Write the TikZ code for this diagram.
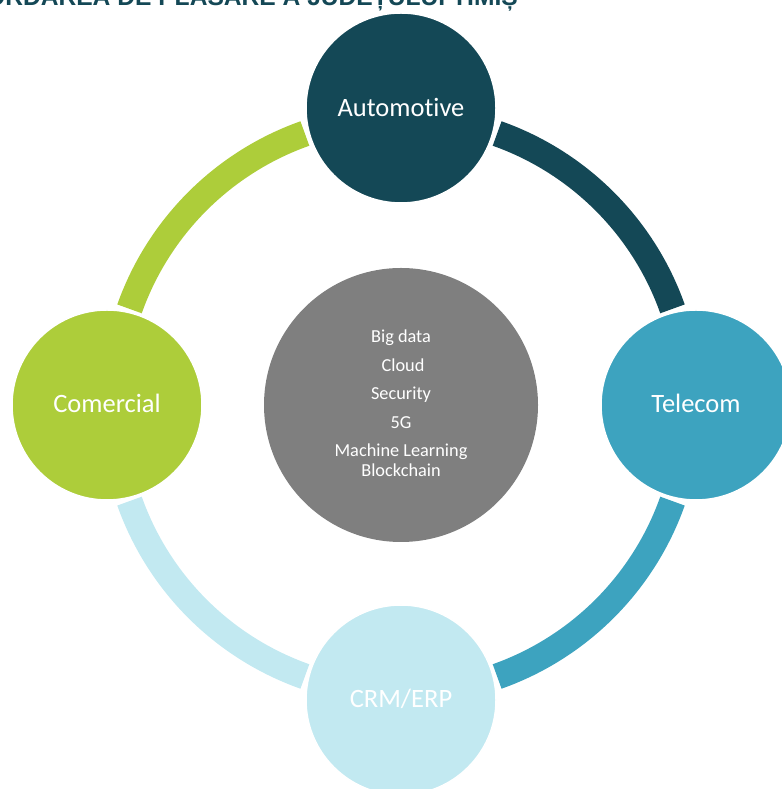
\documentclass[tikz,border=0pt]{standalone}
\usepackage{fontspec}
\setmainfont{Carlito}[Ligatures=NoCommon]
\newfontfamily\titlefont{Liberation Sans}
\definecolor{cAuto}{RGB}{20,72,86}
\definecolor{cTel}{RGB}{61,163,191}
\definecolor{cCom}{RGB}{173,205,58}
\definecolor{cCrm}{RGB}{194,233,241}
\definecolor{cGray}{RGB}{127,127,127}
\begin{document}
\begin{tikzpicture}[x=1pt,y=1pt,
  bigcirc/.style={circle,minimum size=190pt,inner sep=0pt,draw=white,line width=1.5pt},
  lab/.style={text=white,font=\fontsize{26.5}{30}\selectfont,anchor=base,inner sep=0pt},
  tech/.style={text=white,font=\fontsize{18.3}{20}\selectfont,anchor=base,inner sep=0pt},
  ringarc/.style={line width=26pt,line cap=butt}]
\useasboundingbox (0,0) rectangle (781,789);
\coordinate (c) at (401,384);
% title (clipped by the page edge)
\node[anchor=base east,inner sep=0pt,text=cAuto,font=\titlefont\bfseries\fontsize{24.6}{27}\selectfont] (title) at (518,783) {ORDAREA DE PLASARE A JUDEȚULUI TIMIȘ};
% ring arcs
\draw[ringarc,cAuto] (c) ++(19.5:288) arc[start angle=19.5,end angle=70.5,radius=288pt];
\draw[ringarc,cCom] (c) ++(109.5:288) arc[start angle=109.5,end angle=160.5,radius=288pt];
\draw[ringarc,cCrm] (c) ++(199.5:288) arc[start angle=199.5,end angle=250.5,radius=288pt];
\draw[ringarc,cTel] (c) ++(289.5:288) arc[start angle=289.5,end angle=340.5,radius=288pt];
% circles
\node[bigcirc,fill=cAuto] (auto) at (401,681) {};
\node[bigcirc,fill=cTel] (tel) at (696,384) {};
\node[bigcirc,fill=cCom] (com) at (107,384) {};
\node[bigcirc,fill=cCrm] (crm) at (401,89) {};
\node[circle,minimum size=274pt,inner sep=0pt,fill=cGray] (core) at (c) {};
% labels
\node[lab] (autot) at (401,672) {Automotive};
\node[lab] (telt) at (696,376) {Telecom};
\node[lab] (comt) at (107,376) {Comercial};
\node[lab] (crmt) at (401,81) {CRM/ERP};
% core texts
\node[tech] (t1) at (401,446) {Big data};
\node[tech] (t2) at (403,417) {Cloud};
\node[tech] (t3) at (401,389) {Security};
\node[tech] (t4) at (401,360) {5G};
\node[tech] (t5) at (401,332) {Machine Learning};
\node[tech] (t6) at (401,312) {Blockchain};
\end{tikzpicture}
\end{document}
